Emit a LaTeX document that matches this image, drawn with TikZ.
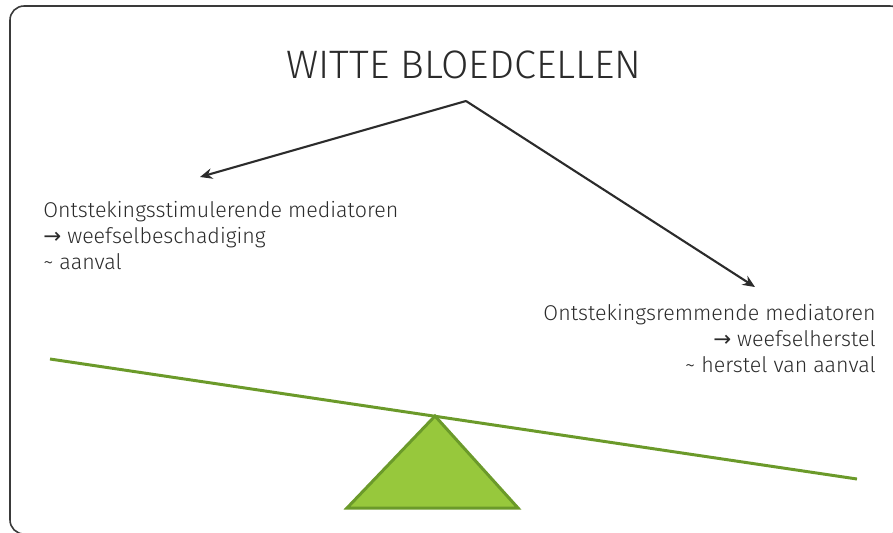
\documentclass[tikz,border=0pt]{standalone}
\usepackage{fontspec}
\setmainfont{Fira Sans}[UprightFont=* Light]
\newfontfamily\symfont{DejaVu Sans}
\usetikzlibrary{positioning,arrows.meta}

\definecolor{txtgray}{HTML}{2B2B2B}
\definecolor{boxgray}{HTML}{3A3A3A}
\definecolor{beamgreen}{HTML}{6B9A2A}
\definecolor{fillgreen}{HTML}{97C83C}

\tikzset{
	pointer/.style={draw=txtgray, line width=1.2pt, -{Stealth[length=7pt,width=6pt]}},
	label/.style={inner sep=0pt, text=txtgray, font=\fontsize{12.2}{14.9}\selectfont},
}

\begin{document}
\begin{tikzpicture}[x=0.02cm,y=-0.02cm]
	\clip (0,0) rectangle (893,532);
	\useasboundingbox (0,0) rectangle (893,532);
	\draw[boxgray, line width=0.9pt, rounded corners=8pt] (10,6) rectangle (904,534);
	
	\node[inner sep=0pt, text=txtgray, font=\fontsize{22.6}{26}\selectfont, anchor=base] (title) at (464,78) {WITTE BLOEDCELLEN};
	
	\coordinate (top) at (466,101);
	\coordinate (L) at (200,177);
	\coordinate (R) at (755,287);
	
	\node[label, align=left, anchor=north west] (left) at (43,201)
		{Ontstekingsstimulerende mediatoren\\{\symfont →} weefselbeschadiging\\\textasciitilde{} aanval};
	\node[label, align=right, anchor=north east] (right) at (876,304)
		{Ontstekingsremmende mediatoren\\{\symfont →} weefselherstel\\\textasciitilde{} herstel van aanval};
	
	\draw[pointer] (top) -- (L);
	\draw[pointer] (top) -- (R);
	
	% wip
	\coordinate (beamL) at (50,359);
	\coordinate (beamR) at (857,479);
	\coordinate (pivot) at (435,416);
	\draw[beamgreen, line width=1.7pt] (beamL) -- (beamR);
	\draw[beamgreen, fill=fillgreen, line width=1.7pt, line join=miter] (pivot) -- (347,508) -- (518,508) -- cycle;
\end{tikzpicture}
\end{document}
